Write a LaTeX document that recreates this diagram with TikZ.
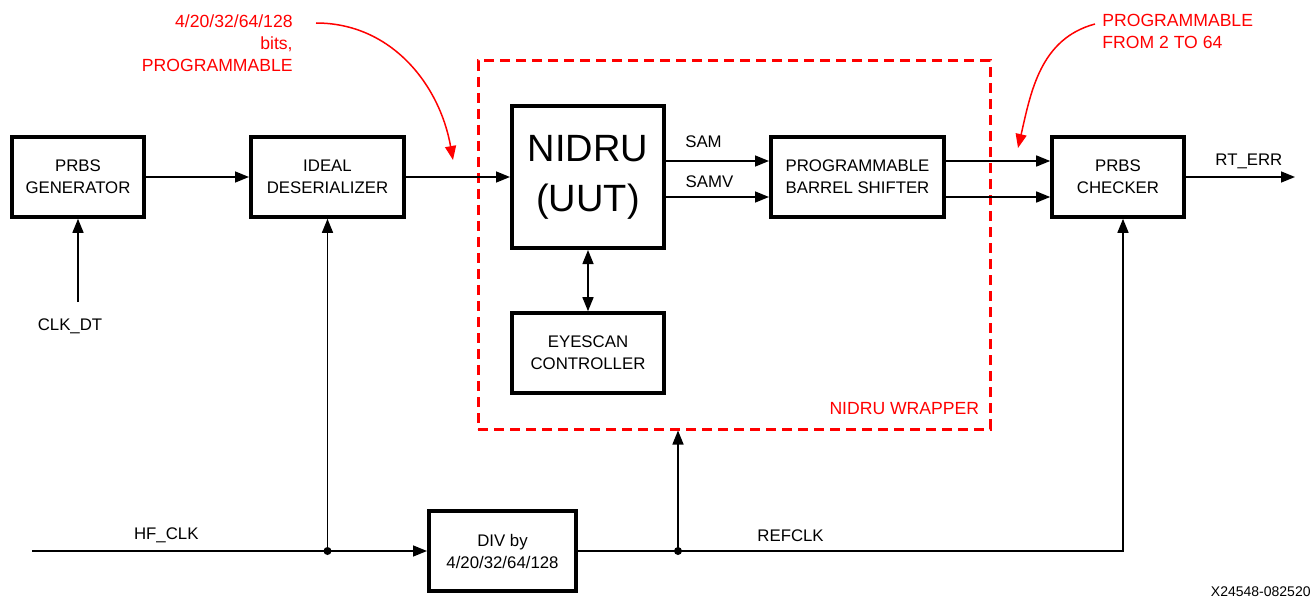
\documentclass[tikz,border=0pt]{standalone}
\usepackage{fontspec}
\setmainfont{Liberation Sans}
\usetikzlibrary{arrows.meta,positioning}

\begin{document}
\begin{tikzpicture}[
  x=0.5pt, y=-0.5pt,
  block/.style={rectangle, draw, line width=1.8pt, minimum height=40pt, inner sep=0pt, align=center},
  conn/.style={-{Triangle[length=7pt,width=5.5pt]}, line width=0.75pt},
  biconn/.style={{Triangle[length=7pt,width=5.5pt]}-{Triangle[length=7pt,width=5.5pt]}, line width=0.75pt},
  lbl/.style={inner sep=0pt},
  note/.style={text=red, inner sep=0pt, font=\fontsize{8.8}{11}\selectfont},
  notearrow/.style={red, line width=0.75pt, -{Triangle[length=7pt,width=5.5pt]}},
  font=\fontsize{8.4}{11}\selectfont
]
\useasboundingbox (0,0) rectangle (1312,599);

% Data path
\node[block, minimum width=66pt] (gen) at (78,177) {PRBS\\GENERATOR};
\node[block, minimum width=76.7pt, right of=gen, node distance=124.75pt] (des) {IDEAL\\DESERIALIZER};
\node[block, minimum width=76.2pt, minimum height=71.2pt, right of=des, node distance=130.25pt,
  font=\fontsize{19}{25}\selectfont] (nidru) {NIDRU\\(UUT)};
\node[block, minimum width=86.7pt, right of=nidru, node distance=134.75pt] (shifter) {PROGRAMMABLE\\BARREL SHIFTER};
\node[block, minimum width=66pt, right of=shifter, node distance=130.25pt] (checker) {PRBS\\CHECKER};
\node[block, minimum width=76.2pt, below of=nidru, node distance=88pt] (eyescan) {EYESCAN\\CONTROLLER};
\node[block, minimum width=73.7pt] (div) at (502.5,551) {DIV by\\4/20/32/64/128};

% Wrapper
\node[draw=red, dash pattern=on 5pt off 3pt, line width=1.5pt, minimum width=256pt, minimum height=184pt,
  inner sep=0pt] (wrapper) at (734,245) {};
\node[note, anchor=base east] (wraplbl) at ([xshift=-6pt, yshift=8pt]wrapper.south east) {NIDRU WRAPPER};

% Connections
\draw[conn] (gen) -- (des);
\draw[conn] (des) -- (nidru);
\draw[conn] ([yshift=8pt]nidru.east) -- node[lbl, above=6.5pt, xshift=-7pt] {SAM} ([yshift=8pt]shifter.west);
\draw[conn] ([yshift=-10pt]nidru.east) -- node[lbl, above=4.5pt, xshift=-4pt] {SAMV} ([yshift=-10pt]shifter.west);
\draw[conn] ([yshift=8pt]shifter.east) -- ([yshift=8pt]checker.west);
\draw[conn] ([yshift=-10pt]shifter.east) -- ([yshift=-10pt]checker.west);
\draw[biconn] (nidru) -- (eyescan);

\coordinate (rterr) at (1295,177);
\draw[conn] (checker) -- node[lbl, above=3.5pt, xshift=4.25pt] {RT\_ERR} (rterr);

% Clocks
\coordinate (clkdt) at (78,302);
\draw[conn] (clkdt) -- (gen);
\node[lbl] (clkdtlbl) at (70,326) {CLK\_DT};

\coordinate (hfclk) at (32,551);
\coordinate (hfdot) at (327.5,551);
\draw[conn] (hfclk) -- node[lbl, above=3.5pt, pos=0.34] {HF\_CLK} (div);
\draw[conn] (hfdot) -- (des);
\fill (hfdot) circle[radius=2pt];

\coordinate (refdot) at (678,551);
\draw[conn] (div) -| node[lbl, above=4.5pt, pos=0.195] {REFCLK} ([xshift=2.5pt]checker.south);
\draw[conn] (refdot) -- (refdot |- wrapper.south);
\fill (refdot) circle[radius=2pt];

% Notes
\node[note, align=right, anchor=north east] (bitsnote) at (293,14) {4/20/32/64/128\\bits,\\PROGRAMMABLE};
\coordinate (bitsfrom) at (316,23);
\coordinate (bitsto) at (453,160);
\draw[notearrow] (bitsfrom) to[out=0, in=100] (bitsto);

\node[note, align=left, anchor=north west] (shiftnote) at (1102,14) {PROGRAMMABLE\\FROM 2 TO 64};
\coordinate (shiftfrom) at (1095,24);
\coordinate (shiftto) at (1018,148);
\draw[notearrow] (shiftfrom) to[out=195, in=77] (shiftto);

\node[lbl, anchor=base east, font=\fontsize{7}{8}\selectfont] (docid) at (1311,596) {X24548-082520};

\end{tikzpicture}
\end{document}
